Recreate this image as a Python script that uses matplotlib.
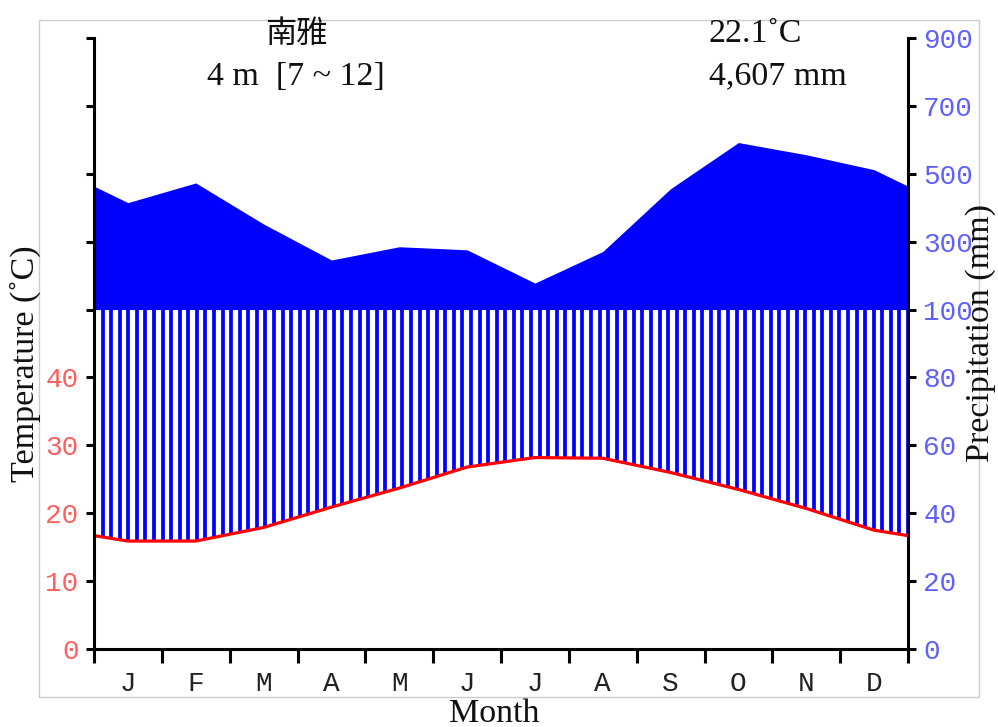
import numpy as np
import matplotlib
matplotlib.use("Agg")
import matplotlib.pyplot as plt
from matplotlib.patches import Rectangle

# ---- data ----
months = ['J', 'F', 'M', 'A', 'M', 'J', 'J', 'A', 'S', 'O', 'N', 'D']
temp = [15.9, 15.9, 17.9, 20.9, 23.7, 26.8, 28.2, 28.1, 26.0, 23.5, 20.7, 17.5]
prec = [415, 473, 352, 246, 285, 276, 178, 271, 456, 592, 556, 512]
station = "南雅"
elev_text = "4 m  [7 ~ 12]"
mean_temp_text = "22.1˚C"
total_prec_text = "4,607 mm"
temp_ticks = [0, 10, 20, 30, 40, 50, 150, 250, 350, 450]
temp_ticklabels = ['0', '10', '20', '30', '40', '', '', '', '', '']
prec_ticks = [0, 20, 40, 60, 80, 100, 300, 500, 700, 900]
prec_ticklabels = ['0', '20', '40', '60', '80', '100', '300', '500', '700', '900']

W, H = 998, 727
fig = plt.figure(figsize=(W / 100, H / 100), dpi=100)

def fx(x):
    return x / W

def fy(y):
    return 1 - y / H

# frame around figure
fig.patches.append(Rectangle((fx(39), fy(697)), fx(979) - fx(39), fy(20) - fy(697),
                             transform=fig.transFigure, fill=False,
                             edgecolor='#cccccc', lw=1.0))

ax = fig.add_axes([fx(94), fy(649), fx(908) - fx(94), fy(38) - fy(649)])
ax2 = ax.twinx()

def fwd(p):
    p = np.asarray(p, dtype=float)
    return np.where(p <= 100, p, 100 + (p - 100) / 10.0)

def inv(y):
    y = np.asarray(y, dtype=float)
    return np.where(y <= 100, y, 100 + (y - 100) * 10.0)

def fwd_t(t):
    return fwd(2 * np.asarray(t, dtype=float))

def inv_t(y):
    return inv(y) / 2.0

ax2.set_yscale('function', functions=(fwd, inv))
ax.set_yscale('function', functions=(fwd_t, inv_t))
ax2.set_ylim(0, 900)
ax.set_ylim(0, 450)
ax.set_xlim(0, 12)

# monthly midpoints plus closing edges (mean of Dec & Jan)
xm = np.arange(12) + 0.5
x_full = np.concatenate([[0], xm, [12]])
t_edge = (temp[0] + temp[-1]) / 2
p_edge = (prec[0] + prec[-1]) / 2
t_full = np.concatenate([[t_edge], temp, [t_edge]])
p_full = np.concatenate([[p_edge], prec, [p_edge]])

# perhumid area above 100 mm
ax2.fill_between(x_full, 100, np.maximum(p_full, 100), color='#0000ff', lw=0)

# humid hatching between temperature curve and 100 mm
xs = np.linspace(0, 12, 96)
t_at = np.interp(xs, x_full, t_full)
ax2.vlines(xs, 2 * t_at, np.minimum(np.interp(xs, x_full, p_full), 100),
           color='#0000ff', lw=2.7)

# temperature curve on top
ax.set_zorder(ax2.get_zorder() + 1)
ax.patch.set_visible(False)
ax.plot(x_full, t_full, color='#ff0000', lw=2.3, solid_capstyle='butt')

red_lbl = '#ff5f5f'
blue_lbl = '#5f5fff'
mono = 'Liberation Mono'
serif = ['Liberation Serif', 'DejaVu Serif']
txt_size = 24.5

for a in (ax, ax2):
    for s in a.spines.values():
        s.set_visible(False)
    a.spines['bottom'].set_linewidth(2.2)

ax.spines['left'].set_visible(True)
ax.spines['left'].set_linewidth(2.2)
ax.spines['bottom'].set_visible(True)
ax2.spines['right'].set_visible(True)
ax2.spines['right'].set_linewidth(2.2)

ax.set_yticks(temp_ticks)
ax.set_yticklabels(temp_ticklabels, fontfamily=mono, fontsize=20, color=red_lbl)
ax.tick_params(axis='y', which='major', length=6, width=2.2, pad=5, direction='out')
ax.yaxis.set_minor_locator(matplotlib.ticker.NullLocator())

ax2.set_yticks(prec_ticks)
ax2.set_yticklabels(prec_ticklabels, fontfamily=mono, fontsize=20, color=blue_lbl)
ax2.tick_params(axis='y', which='major', length=6, width=2.2, pad=5, direction='out')
ax2.yaxis.set_minor_locator(matplotlib.ticker.NullLocator())

ax.set_xticks(np.arange(13))
ax.set_xticklabels([''] * 13)
ax.tick_params(axis='x', which='major', length=10, width=2.2, direction='out')
ax.set_xticks(xm, minor=True)
ax.set_xticklabels(months, minor=True, fontfamily=mono, fontsize=20, color='#222222')
ax.tick_params(axis='x', which='minor', length=0, pad=16)

# texts
fig.text(fx(296), fy(43), station, ha='center', va='baseline', fontsize=22.5,
         family=['Noto Sans CJK TC', 'DejaVu Sans'], color='#111111')
fig.text(fx(296), fy(85), elev_text, ha='center', va='baseline', fontsize=txt_size,
         family=serif, color='#111111')
fig.text(fx(709), fy(42), mean_temp_text, ha='left', va='baseline', fontsize=txt_size,
         family=serif, color='#111111')
fig.text(fx(709), fy(84), total_prec_text, ha='left', va='baseline', fontsize=txt_size,
         family=serif, color='#111111')

fig.text(fx(25), fy(364), "Temperature (˚C)", rotation=90, ha='center', va='center',
         fontsize=txt_size, family=serif, color='#111111')
fig.text(fx(981), fy(333), "Precipitation (mm)", rotation=90, ha='center', va='center',
         fontsize=txt_size, family=serif, color='#111111')
fig.text(fx(494), fy(722), "Month", ha='center', va='baseline', fontsize=txt_size,
         family=serif, color='#111111')

fig.savefig("out.png", dpi=100)
